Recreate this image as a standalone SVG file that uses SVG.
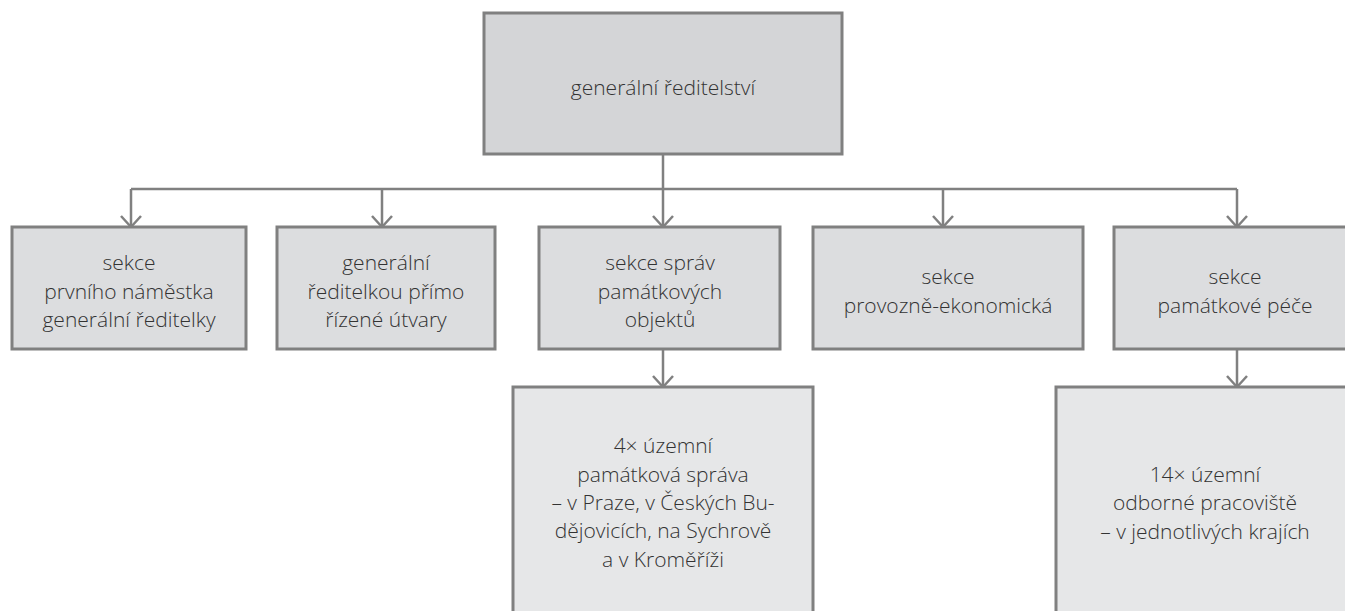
<svg xmlns="http://www.w3.org/2000/svg" width="1345" height="611" viewBox="0 0 1345 611">
<style>
.box{stroke:#808080;stroke-width:3}
.l0{fill:#d4d5d7}
.l1{fill:#dcdddf}
.l2{fill:#e6e7e8}
text{font-family:"Open Sans","Noto Sans","Liberation Sans",sans-serif;font-weight:300;font-size:21px;fill:#333333;text-anchor:middle}
.c{fill:none;stroke:#808080;stroke-width:2.5}
</style>
<rect width="1345" height="611" fill="#ffffff"/>
<g id="connectors">
<path class="c" d="M663 154V227M131 189H1237M131 189V227M382 189V227M943 189V227M1237 189V227M663 349V387M1237 349V387"/>
<path class="c" d="M121 216L131 227L141 216M372 216L382 227L392 216M653 216L663 227L673 216M933 216L943 227L953 216M1227 216L1237 227L1247 216M653 376L663 387L673 376M1227 376L1237 387L1247 376"/>
</g>
<g id="n0"><rect class="box l0" x="484" y="13" width="358" height="141"/><text x="663" y="95">generální ředitelství</text></g>
<g id="n1"><rect class="box l1" x="12" y="227" width="234" height="122"/><text x="129" y="270">sekce</text><text x="129" y="299">prvního náměstka</text><text x="129" y="327">generální ředitelky</text></g>
<g id="n2"><rect class="box l1" x="277" y="227" width="218" height="122"/><text x="386" y="270">generální</text><text x="386" y="299">ředitelkou přímo</text><text x="386" y="327">řízené útvary</text></g>
<g id="n3"><rect class="box l1" x="539" y="227" width="241" height="122"/><text x="660" y="270">sekce správ</text><text x="660" y="299">památkových</text><text x="660" y="327">objektů</text></g>
<g id="n4"><rect class="box l1" x="813" y="227" width="270" height="122"/><text x="948" y="284">sekce</text><text x="948" y="313">provozně-ekonomická</text></g>
<g id="n5"><rect class="box l1" x="1114" y="227" width="245" height="122"/><text x="1235" y="284">sekce</text><text x="1235" y="313">památkové péče</text></g>
<g id="n6"><rect class="box l2" x="513" y="387" width="300" height="240"/><text x="663" y="453">4× územní</text><text x="663" y="482">památková správa</text><text x="663" y="510">– v Praze, v Českých Bu-</text><text x="663" y="538">dějovicích, na Sychrově</text><text x="663" y="567">a v Kroměříži</text></g>
<g id="n7"><rect class="box l2" x="1056" y="387" width="300" height="240"/><text x="1205" y="482">14× územní</text><text x="1205" y="510">odborné pracoviště</text><text x="1205" y="539">– v jednotlivých krajích</text></g>
</svg>
